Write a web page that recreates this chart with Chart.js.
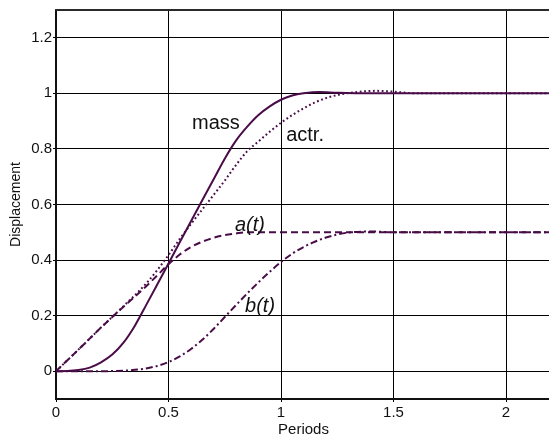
<!DOCTYPE html>
<html>
<head>
<meta charset="utf-8">
<script src="https://cdn.jsdelivr.net/npm/chart.js@4/dist/chart.umd.min.js"></script>
<style>
  html, body { margin: 0; padding: 0; background: #fff; overflow: hidden; width: 549px; height: 437px; }
  #wrap { width: 556px; height: 437px; }
</style>
</head>
<body>
<div id="wrap"><canvas id="c" width="556" height="437"></canvas></div>
<script>
// ---- data ----
const xTicks = [0, 0.5, 1, 1.5, 2];
const xTickLabels = ['0', '0.5', '1', '1.5', '2'];
const yTicks = [0, 0.2, 0.4, 0.6, 0.8, 1, 1.2];
const yTickLabels = ['0', '0.2', '0.4', '0.6', '0.8', '1', '1.2'];

const massT = [0, 0.05, 0.1, 0.15, 0.2, 0.25, 0.3, 0.35, 0.4, 0.45, 0.5, 0.55, 0.6, 0.65, 0.7, 0.75, 0.8, 0.85, 0.9, 0.95, 1.0, 1.05, 1.1, 1.17, 1.25, 1.35, 1.5, 1.8, 2.0, 2.2];
const massV = [0, 0.0005, 0.004, 0.013, 0.032, 0.06, 0.103, 0.163, 0.237, 0.312, 0.388, 0.464, 0.54, 0.615, 0.69, 0.765, 0.83, 0.88, 0.922, 0.953, 0.977, 0.992, 1.0, 1.005, 1.002, 1.0, 1.0, 1.0, 1.0, 1.0];

const actrT = [0, 0.1, 0.2, 0.3, 0.4, 0.45, 0.5, 0.55, 0.6, 0.65, 0.7, 0.75, 0.8, 0.85, 0.9, 0.95, 1.0, 1.05, 1.1, 1.15, 1.2, 1.25, 1.3, 1.35, 1.42, 1.5, 1.6, 1.8, 2.0, 2.2];
const actrV = [0, 0.078, 0.157, 0.234, 0.315, 0.364, 0.418, 0.476, 0.53, 0.582, 0.634, 0.686, 0.742, 0.792, 0.827, 0.862, 0.894, 0.922, 0.946, 0.967, 0.983, 0.994, 1.001, 1.006, 1.009, 1.006, 1.0, 1.0, 1.0, 1.0];

const aT = [0, 0.1, 0.2, 0.3, 0.4, 0.45, 0.5, 0.55, 0.6, 0.65, 0.7, 0.75, 0.8, 0.85, 0.95, 1.2, 1.5, 2.0, 2.2];
const aV = [0, 0.078, 0.157, 0.232, 0.305, 0.345, 0.385, 0.42, 0.447, 0.466, 0.48, 0.49, 0.496, 0.5, 0.5, 0.5, 0.5, 0.5, 0.5];

const bT = [0, 0.2, 0.3, 0.35, 0.4, 0.45, 0.5, 0.55, 0.6, 0.65, 0.7, 0.75, 0.8, 0.85, 0.9, 0.95, 1.0, 1.05, 1.1, 1.15, 1.2, 1.25, 1.3, 1.4, 1.5, 2.0, 2.2];
const bV = [0, 0, 0.002, 0.005, 0.01, 0.019, 0.033, 0.053, 0.08, 0.113, 0.152, 0.195, 0.238, 0.28, 0.32, 0.358, 0.393, 0.423, 0.447, 0.466, 0.481, 0.492, 0.499, 0.503, 0.5, 0.5, 0.5];

// text labels anchored in data coordinates
const curveLabels = [
  { text: 'mass',  t: 0.711, v: 0.89,  italic: false },
  { text: 'actr.', t: 1.107, v: 0.848, italic: false },
  { text: 'a(t)',  t: 0.862, v: 0.523, italic: true },
  { text: 'b(t)',  t: 0.907, v: 0.233, italic: true }
];

const pts = (ts, vs) => ts.map((t, i) => ({ x: t, y: vs[i] }));
const COLOR = '#4a0c48';
const FONT = '"Liberation Sans", Arial, sans-serif';

const frame = {
  id: 'frame',
  afterDraw(chart) {
    const { ctx, chartArea: a } = chart;
    ctx.save();
    ctx.strokeStyle = '#2a2a2a';
    ctx.lineWidth = 2;
    ctx.beginPath();
    ctx.moveTo(a.left - 1, a.top);
    ctx.lineTo(a.right + 2, a.top);
    ctx.stroke();
    const xs = chart.scales.x, ys = chart.scales.y;
    ctx.fillStyle = '#111';
    ctx.textAlign = 'center';
    ctx.textBaseline = 'middle';
    curveLabels.forEach(l => {
      ctx.font = (l.italic ? 'italic ' : '') + '20px ' + FONT;
      ctx.fillText(l.text, xs.getPixelForValue(l.t), ys.getPixelForValue(l.v));
    });
    ctx.restore();
  }
};

const ds = (label, data, dash) => ({
  label, data,
  borderColor: COLOR,
  borderWidth: 2,
  borderDash: dash,
  pointRadius: 0,
  fill: false,
  cubicInterpolationMode: 'monotone'
});

new Chart(document.getElementById('c'), {
  type: 'line',
  data: {
    datasets: [
      ds('mass', pts(massT, massV), []),
      ds('actr.', pts(actrT, actrV), [1.8, 2.6]),
      ds('a(t)', pts(aT, aV), [7, 4]),
      ds('b(t)', pts(bT, bV), [7, 3, 2, 3])
    ]
  },
  options: {
    responsive: false,
    devicePixelRatio: 1,
    animation: false,
    events: [],
    layout: { padding: { top: 7, right: 5, left: 0, bottom: 0 } },
    plugins: { legend: { display: false }, tooltip: { enabled: false } },
    scales: {
      x: {
        type: 'linear',
        min: 0, max: 2.2,
        afterBuildTicks: s => { s.ticks = xTicks.map(v => ({ value: v })); },
        afterFit: s => { s.height = 38; },
        ticks: {
          color: '#111', font: { family: FONT, size: 15 }, padding: 2,
          maxRotation: 0, autoSkip: false,
          callback: (v) => xTickLabels[xTicks.indexOf(v)]
        },
        grid: { color: '#000', lineWidth: 1, tickLength: 3, drawTicks: true },
        border: { color: '#111', width: 2 },
        title: { display: true, text: 'Periods', color: '#111', font: { family: FONT, size: 15 }, padding: { top: 0, bottom: -2 } }
      },
      y: {
        type: 'linear',
        min: -0.1, max: 1.3,
        afterBuildTicks: s => { s.ticks = yTicks.map(v => ({ value: v })); },
        afterFit: s => { s.width = 56; },
        ticks: {
          color: '#111', font: { family: FONT, size: 15 }, padding: 1,
          autoSkip: false,
          callback: (v) => yTickLabels[yTicks.indexOf(v)]
        },
        grid: { color: '#000', lineWidth: 1, tickLength: 3 },
        border: { color: '#111', width: 2 },
        title: { display: true, text: 'Displacement', color: '#111', font: { family: FONT, size: 14 }, padding: { top: 8, bottom: 0 } }
      }
    }
  },
  plugins: [frame]
});
</script>
</body>
</html>
